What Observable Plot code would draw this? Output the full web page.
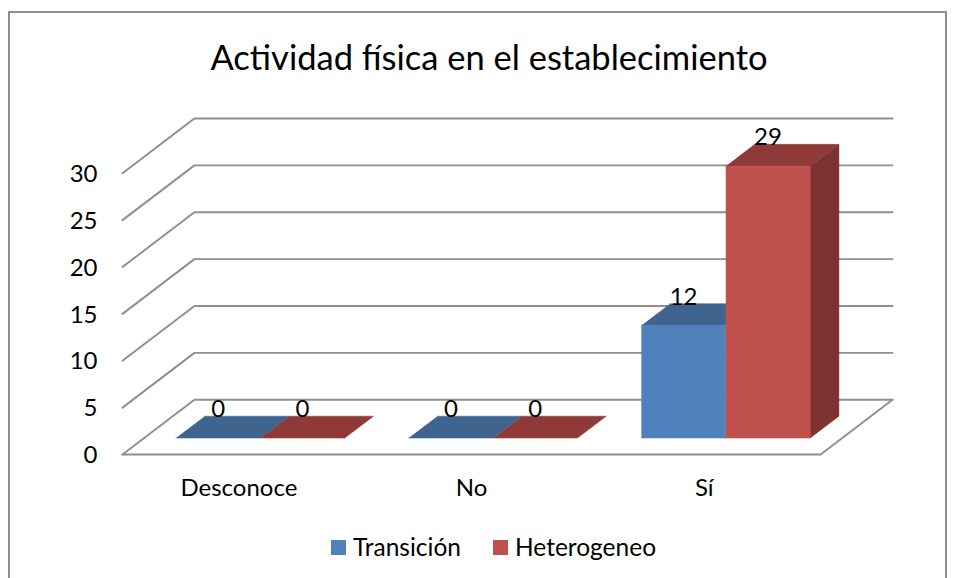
<!DOCTYPE html>
<html lang="es">
<head>
<meta charset="utf-8">
<script src="https://cdn.jsdelivr.net/npm/d3@7"></script>
<script src="https://cdn.jsdelivr.net/npm/@observablehq/plot@0.6"></script>
<style>
  html, body { margin: 0; padding: 0; background: #fff; overflow: hidden; width: 957px; height: 578px; }
  #frame { position: absolute; left: 8px; top: 11px; width: 939px; height: 600px; border: 2px solid #8f8f8f; box-sizing: border-box; background: #fff; font-family: Lato, sans-serif; color: #000; }
  #title { position: absolute; left: 0; top: 22px; width: 958px; text-align: center; font-size: 34.5px; line-height: 44px; white-space: nowrap; }
  #chart { position: absolute; left: 0; top: 77px; }
  #legend { position: absolute; top: 522px; left: 321px; height: 24px; font-size: 24.5px; line-height: 24px; white-space: nowrap; }
  #legend span.sw { position: absolute; top: 5px; width: 15px; height: 15px; }
  #legend span.tx { position: absolute; top: 0; }
  svg text { font-family: Lato, sans-serif; }
</style>
</head>
<body>
<div id="frame">
  <div id="title"></div>
  <div id="chart"></div>
  <div id="legend"></div>
</div>
<script>
const title = "Actividad física en el establecimiento";
const categories = ["Desconoce", "No", "Sí"];
const seriesNames = ["Transición", "Heterogeneo"];
const transicion = [0, 0, 12];
const heterogeneo = [0, 0, 29];
const yTicks = [0, 5, 10, 15, 20, 25, 30];
const seriesValues = [transicion, heterogeneo];
const frontColors = ["#4f81bd", "#c0504d"];
const topColors = ["#3f6490", "#8f3a38"];
const sideColors = ["#335277", "#7d3230"];
const gridColor = "#8f8f8f";

// Oblique projection of the 3D box: depth 0 is the front plane, depth 1 the back wall.
const depthX = 72 / 233;    // category units moved right per unit depth
const depthY = 54.6 / 9.35; // value units moved up per unit depth
const P = (cat, value, depth) => ({x: cat + depth * depthX, y: value + depth * depthY});

const gap = 0.137, barW = 0.3627, d0 = 0.3, d1 = 0.7;
const nCat = categories.length;
const yMax = yTicks[yTicks.length - 1];

const marks = [];
// Wall and floor lines
for (const v of yTicks) {
  marks.push(Plot.line([P(0, v, 0), P(0, v, 1), P(nCat, v, 1)], {x: "x", y: "y", stroke: gridColor, strokeWidth: 1.9}));
}
marks.push(Plot.line([P(0, 0, 0), P(nCat, 0, 0), P(nCat, 0, 1)], {x: "x", y: "y", stroke: gridColor, strokeWidth: 1.9}));

const poly = (pts, fill) => Plot.line(pts, {x: "x", y: "y", fill, stroke: fill, strokeWidth: 0.5, strokeLinejoin: "miter"});
const labels = [];
seriesValues.forEach((vals, s) => {
  vals.forEach((v, c) => {
    const l = c + gap + s * barW, r = l + barW;
    // side, top, front
    if (v > 0) marks.push(poly([P(r, 0, d0), P(r, 0, d1), P(r, v, d1), P(r, v, d0)], sideColors[s]));
    marks.push(poly([P(l, v, d0), P(r, v, d0), P(r, v, d1), P(l, v, d1)], topColors[s]));
    if (v > 0) marks.push(poly([P(l, 0, d0), P(r, 0, d0), P(r, v, d0), P(l, v, d0)], frontColors[s]));
    labels.push({x: P((l + r) / 2, v, d0).x, y: P(l, v, d1).y, text: String(v)});
  });
});
marks.push(Plot.text(labels, {x: "x", y: "y", text: "text", fontSize: 24, fill: "#000", textAnchor: "middle", lineAnchor: "bottom", dy: 1}));

marks.push(Plot.axisY({ticks: yTicks, tickSize: 0, tickPadding: 25, dy: 1, fontSize: 24, tickFormat: d => String(d), label: null, color: "#000"}));
marks.push(Plot.axisX({ticks: categories.map((_, i) => i + 0.5), tickSize: 0, tickPadding: 24, fontSize: 24, tickFormat: d => categories[Math.floor(d)], label: null, color: "#000"}));

const chart = Plot.plot({
  width: 934, height: 420,
  marginLeft: 112, marginRight: 52, marginTop: 28, marginBottom: 56,
  style: {background: "transparent", overflow: "visible"},
  x: {type: "linear", domain: [0, nCat + depthX]},
  y: {type: "linear", domain: [0, yMax + depthY]},
  marks
});
document.getElementById("chart").appendChild(chart);
document.getElementById("title").textContent = title;

const legend = document.getElementById("legend");
const swX = [0, 162], txX = [22, 184];
seriesNames.forEach((name, i) => {
  const sw = document.createElement("span"); sw.className = "sw"; sw.style.left = swX[i] + "px"; sw.style.background = frontColors[i];
  const tx = document.createElement("span"); tx.className = "tx"; tx.style.left = txX[i] + "px"; tx.textContent = name;
  legend.append(sw, tx);
});
</script>
</body>
</html>
